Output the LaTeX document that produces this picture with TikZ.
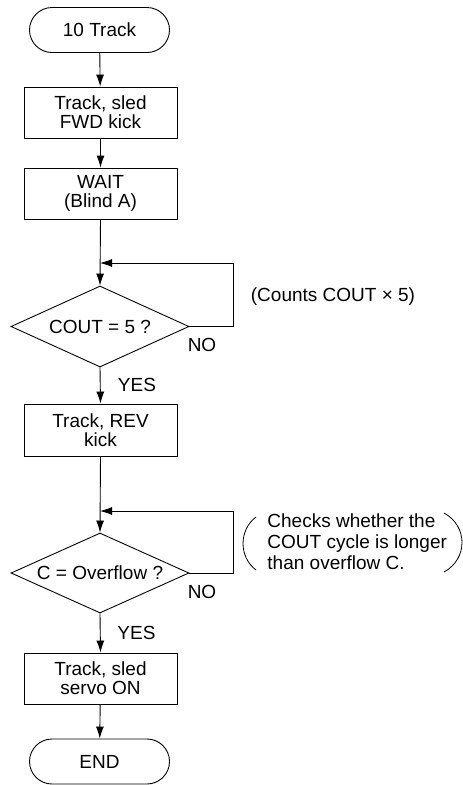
\documentclass[tikz,border=0pt]{standalone}
\usepackage{fontspec}
\setmainfont{Liberation Sans}
\usetikzlibrary{shapes.geometric,arrows.meta}
\begin{document}
\begin{tikzpicture}[x=1pt,y=-1pt,
  line width=0.9pt,
  every node/.style={font=\fontsize{19}{19}\selectfont},
  term/.style={draw,rectangle,rounded corners=22.5pt,minimum width=140pt,minimum height=45pt,inner sep=0pt},
  proc/.style={draw,rectangle,minimum width=153pt,minimum height=51pt,inner sep=0pt,align=center},
  decide/.style={draw,diamond,aspect=2.2,minimum width=178pt,minimum height=81pt,inner sep=0pt},
  lbl/.style={inner sep=0pt},
  arr/.style={-{Latex[length=12pt,width=8pt]}}
]
\useasboundingbox (0,0) rectangle (463,785);
\node[term] (start) at (99.5,30) {10 Track};
\node[proc] (b1) at (100.5,112.5) {Track, sled\\FWD kick};
\node[proc] (b2) at (100.5,193.5) {WAIT\\(Blind A)};
\node[decide] (d1) at (100,326.5) {COUT = 5 ?};
\node[proc,minimum height=52pt] (b3) at (100.5,430) {Track, REV\\kick};
\node[decide,minimum height=80pt] (d2) at (100,573) {C = Overflow ?};
\node[proc] (b4) at (100.5,678.5) {Track, sled\\servo ON};
\node[term] (end) at (99.5,761.5) {END};

\coordinate (j1) at (100,263);
\coordinate (j2) at (100,511);

\draw[arr] (start) -- (b1);
\draw[arr] (b1) -- (b2);
\draw[arr] (b2.south) -- (d1.north);
\draw[arr] (d1.east) -- ++(44,0) |- (j1);
\draw[arr] (d1.south) -- (b3.north);
\draw[arr] (b3.south) -- (d2.north);
\draw[arr] (d2.east) -- ++(44,0) |- (j2);
\draw[arr] (d2.south) -- (b4.north);
\draw[arr] (b4) -- (end);

\node[lbl] (no1) at (202,344.5) {NO};
\node[lbl] (yes1) at (137,385) {YES};
\node[lbl] (no2) at (202,592) {NO};
\node[lbl] (yes2) at (136.5,633) {YES};
\node[lbl] (cnt) at (333,297) {(Counts COUT × 5)};
\node[lbl,align=left,anchor=west,font=\fontsize{19}{21}\selectfont] (note) at (267,541.5)
  {Checks whether the\\COUT cycle is longer\\than overflow C.};
\draw[line width=0.8pt] (256,517) .. controls (238.7,530) and (238.7,557) .. (256,570);
\draw[line width=0.8pt] (444,513) .. controls (468,526) and (468,559) .. (444,572);
\end{tikzpicture}
\end{document}
